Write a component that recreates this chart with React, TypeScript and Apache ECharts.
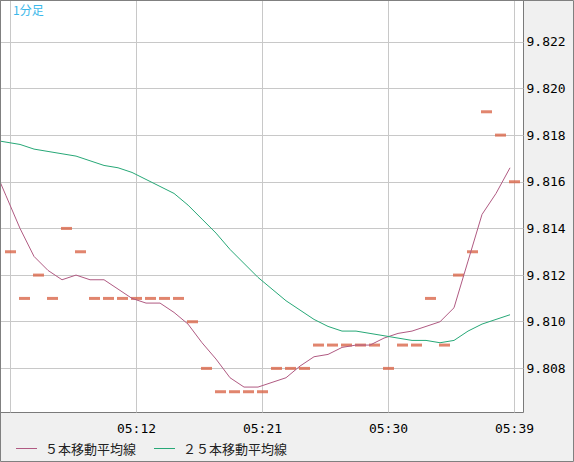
import { useRef, useEffect } from "react";
import * as echarts from "echarts";

// minutes past 05:00
const MINUTES = [3, 4, 5, 6, 7, 8, 9, 10, 11, 12, 13, 14, 15, 16, 17, 18, 19, 20, 21, 22, 23, 24, 25, 26, 27, 28, 29, 30, 31, 32, 33, 34, 35, 36, 37, 38, 39];
const LINE_MINUTES = [2, 3, 4, 5, 6, 7, 8, 9, 10, 11, 12, 13, 14, 15, 16, 17, 18, 19, 20, 21, 22, 23, 24, 25, 26, 27, 28, 29, 30, 31, 32, 33, 34, 35, 36, 37, 38, 39];

const PRICES = [
  9.813, 9.811, 9.812, 9.811, 9.814, 9.813, 9.811, 9.811, 9.811, 9.811, 9.811, 9.811, 9.811,
  9.81, 9.808, 9.807, 9.807, 9.807, 9.807, 9.808, 9.808, 9.808, 9.809, 9.809, 9.809, 9.809,
  9.809, 9.808, 9.809, 9.809, 9.811, 9.809, 9.812, 9.813, 9.819, 9.818, 9.816,
];

const MA5 = [
  9.8168, 9.8154, 9.814, 9.8128, 9.8122, 9.8118, 9.812, 9.8118, 9.8118, 9.8114, 9.811, 9.8108,
  9.8108, 9.8104, 9.8099, 9.8091, 9.8084, 9.8076, 9.8072, 9.8072, 9.8074, 9.8076, 9.8081,
  9.8085, 9.8086, 9.8089, 9.809, 9.809, 9.8093, 9.8095, 9.8096, 9.8098, 9.81, 9.8106, 9.8126,
  9.8146, 9.8155, 9.8166,
];

const MA25 = [
  9.8178, 9.8177, 9.8176, 9.8174, 9.8173, 9.8172, 9.8171, 9.8169, 9.8167, 9.8166, 9.8164,
  9.8161, 9.8158, 9.8155, 9.815, 9.8144, 9.8138, 9.8131, 9.8125, 9.8119, 9.8114, 9.8109,
  9.8105, 9.8101, 9.8098, 9.8096, 9.8096, 9.8095, 9.8094, 9.8093, 9.8092, 9.8092, 9.8091,
  9.8092, 9.8096, 9.8099, 9.8101, 9.8103,
];

const X_GRID = [3, 12, 21, 30, 39];
const X_LABELS = [12, 21, 30, 39];
const Y_TICKS = [9.808, 9.81, 9.812, 9.814, 9.816, 9.818, 9.82, 9.822];
const SERIES_NAMES = ["５本移動平均線", "２５本移動平均線"];

const X_MIN = 2.2857;
const X_MAX = 39.643;
const LINE_SHIFT = 0.32; // averages are drawn a few px left of the price marks
const Y_MIN = 9.80611;
const Y_MAX = 9.82377;

const MONO = "'DejaVu Sans Mono', 'Liberation Mono', monospace";
const JP = "'Noto Sans CJK JP', sans-serif";

export default function App() {
  const chartRef = useRef<HTMLDivElement>(null);

  useEffect(() => {
    if (!chartRef.current) return;
    const chart = echarts.init(chartRef.current, null, { renderer: "svg" });
    const option: echarts.EChartsOption = {
      animation: false,
      backgroundColor: "#f0f0f0",
      title: {
        text: "1分足", left: 13, top: 3, padding: 0,
        textStyle: { color: "#3bb8ea", fontSize: 12, fontWeight: "normal", fontFamily: JP },
      },
      legend: {
        data: SERIES_NAMES, left: 16, top: 442, padding: 0, icon: "rect",
        itemWidth: 21, itemHeight: 1, itemGap: 18,
        textStyle: { fontFamily: JP, fontSize: 13, color: "#222", padding: [0, 0, 0, 3] },
      },
      grid: {
        left: 0.5, top: 0.5, right: 50.5, bottom: 49.5,
        show: true, backgroundColor: "#fff", borderColor: "#7a7a7a", borderWidth: 1,
      },
      xAxis: [
        {
          type: "value", min: X_MIN, max: X_MAX, position: "bottom",
          axisLine: { show: false },
          axisTick: { show: false, customValues: X_GRID },
          axisLabel: {
            customValues: X_LABELS, margin: 9, color: "#000", fontFamily: MONO, fontSize: 13,
            formatter: (v: number) => "05:" + String(Math.round(v)).padStart(2, "0"),
          },
          splitLine: { show: true, lineStyle: { color: "#c8c8c8", width: 1 } },
        },
        { type: "value", min: X_MIN + LINE_SHIFT, max: X_MAX + LINE_SHIFT, show: false },
      ],
      yAxis: {
        type: "value", position: "right", min: Y_MIN, max: Y_MAX,
        axisLine: { show: false },
        axisTick: { show: false, customValues: Y_TICKS },
        axisLabel: {
          customValues: Y_TICKS, margin: 3, color: "#000", fontFamily: MONO, fontSize: 13,
          formatter: (v: number) => v.toFixed(3),
        },
        splitLine: { show: true, lineStyle: { color: "#c8c8c8", width: 1 } },
      },
      graphic: [
        {
          type: "rect", z: 100, silent: true,
          shape: { x: 0.5, y: 0.5, width: 573, height: 461 },
          style: { fill: "none", stroke: "#808080", lineWidth: 1 },
        },
      ],
      series: [
        {
          name: "price", type: "scatter", xAxisIndex: 0, silent: true,
          symbol: "rect", symbolSize: [11, 3],
          itemStyle: { color: "#d9664a" },
          data: MINUTES.map((m, i) => [m, PRICES[i]]),
        },
        {
          name: SERIES_NAMES[0], type: "line", xAxisIndex: 1, showSymbol: false, symbol: "none",
          lineStyle: { width: 1, color: "#b05a82" }, itemStyle: { color: "#b05a82" },
          data: LINE_MINUTES.map((m, i) => [m, MA5[i]]),
        },
        {
          name: SERIES_NAMES[1], type: "line", xAxisIndex: 1, showSymbol: false, symbol: "none",
          lineStyle: { width: 1, color: "#27a877" }, itemStyle: { color: "#27a877" },
          data: LINE_MINUTES.map((m, i) => [m, MA25[i]]),
        },
      ],
    };
    chart.setOption(option);
    return () => chart.dispose();
  }, []);

  return (
    <>
      <style>{"body{margin:0}"}</style>
      <div ref={chartRef} style={{ width: 574, height: 462 }} />
    </>
  );
}
